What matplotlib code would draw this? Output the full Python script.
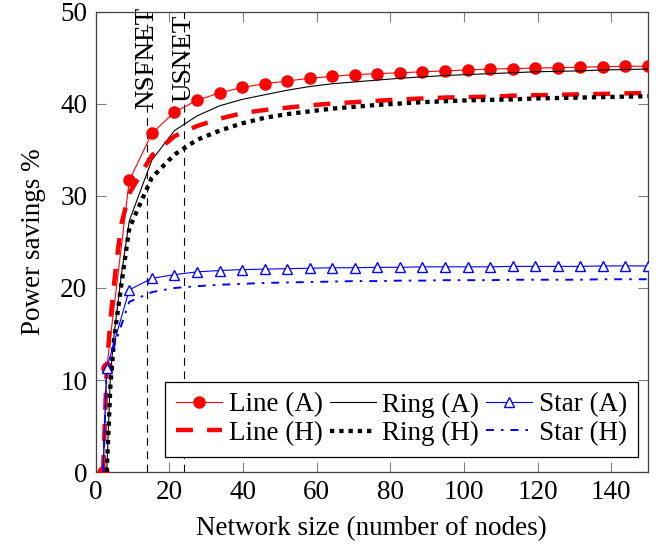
import matplotlib
matplotlib.use("Agg")
import matplotlib.pyplot as plt

plt.rcParams["font.family"] = ["Liberation Serif", "DejaVu Serif"]
plt.rcParams["font.size"] = 19.5

# Network sizes shared by the sampled points of every curve
n_grid = [9.125, 15.25, 21.375, 27.5, 33.625, 39.75, 45.875, 52.0, 58.125,
          64.25, 70.375, 76.5, 82.625, 88.75, 94.875, 101.0, 107.125, 113.25,
          119.375, 125.5, 131.625, 137.75, 143.875, 150.0]

# Line topology
line_a_n = [2, 3] + n_grid
line_a = [0.0, 11.3, 31.7, 36.8, 39.1, 40.4, 41.2, 41.8, 42.2, 42.5, 42.8,
          43.0, 43.2, 43.3, 43.4, 43.5, 43.6, 43.7, 43.8, 43.85, 43.9, 43.95,
          44.0, 44.05, 44.1, 44.1]
line_h_n = [2, 3, 4, 5, 6, 7] + n_grid
line_h = [0.0, 11.3, 16.5, 20.5, 24.0, 27.0, 30.3, 34.4, 36.5, 37.6, 38.4,
          39.0, 39.35, 39.6, 39.85, 40.05, 40.2, 40.35, 40.5, 40.6, 40.7,
          40.75, 40.8, 40.9, 40.95, 41.0, 41.05, 41.1, 41.15, 41.2]

# Ring topology
ring_a_n = [3, 4, 5, 7] + n_grid
ring_a = [0.0, 10.5, 15.0, 21.5, 27.3, 33.9, 37.1, 38.7, 39.8, 40.5, 41.0,
          41.5, 41.9, 42.2, 42.4, 42.6, 42.8, 42.95, 43.1, 43.2, 43.3, 43.4,
          43.5, 43.55, 43.6, 43.7, 43.75, 43.8]
ring_h_n = [3, 4, 5, 7] + n_grid
ring_h = [0.0, 9.5, 14.5, 20.5, 26.5, 32.0, 34.5, 36.1, 37.1, 37.9, 38.5,
          38.9, 39.2, 39.5, 39.7, 39.9, 40.05, 40.2, 40.3, 40.4, 40.45, 40.5,
          40.6, 40.65, 40.7, 40.75, 40.8, 40.85]

# Star topology
star_a_n = [2, 3] + n_grid
star_a = [0.0, 11.3, 19.8, 21.05, 21.45, 21.75, 21.9, 22.0, 22.05, 22.1,
          22.15, 22.2, 22.2, 22.25, 22.25, 22.3, 22.3, 22.3, 22.3, 22.35,
          22.35, 22.35, 22.35, 22.4, 22.4, 22.4]
star_h_n = [2, 3] + n_grid
star_h = [0.0, 11.3, 18.5, 19.55, 20.0, 20.2, 20.35, 20.45, 20.55, 20.6,
          20.65, 20.7, 20.75, 20.75, 20.8, 20.8, 20.85, 20.85, 20.85, 20.9,
          20.9, 20.9, 20.9, 20.95, 20.95, 20.95]

# Reference networks
ref_names = ["NSFNET", "USNET"]
ref_sizes = [14, 24]

fig = plt.figure(figsize=(6.72, 5.5), dpi=100)
ax = fig.add_axes([95.7 / 672, 1 - 472 / 550, (648 - 95.7) / 672, 460 / 550])

for name, size in zip(ref_names, ref_sizes):
    ax.axvline(size, color="black", lw=0.8, dashes=(7, 5), zorder=1)
    ax.text(size, 45, name, rotation=90, ha="center", va="center",
            fontsize=19.5, zorder=2)

h_la, = ax.plot(line_a_n, line_a, color="red", lw=0.8, marker="o", ms=8,
                label="Line (A)", zorder=3)
h_ra, = ax.plot(ring_a_n, ring_a, color="black", lw=0.8, label="Ring (A)",
                zorder=3)
h_sa, = ax.plot(star_a_n, star_a, color="blue", lw=0.8, marker="^", ms=7,
                mfc="white", mec="blue", mew=1.0,
                markevery=list(range(1, len(star_a))), label="Star (A)",
                zorder=4)
h_lh, = ax.plot(line_h_n, line_h, color="red", lw=3.2, dashes=(3.8, 3.2),
                dash_capstyle="butt", label="Line (H)", zorder=3)
h_rh, = ax.plot(ring_h_n, ring_h, color="black", lw=3.1, dashes=(1.0, 1.15),
                dash_capstyle="butt", label="Ring (H)", zorder=3)
h_sh, = ax.plot(star_h_n, star_h, color="blue", lw=1.4,
                dashes=(4.1, 3.6, 1.3, 3.6), dash_capstyle="butt",
                label="Star (H)", zorder=3)

ax.set_xlim(0, 150)
ax.set_ylim(0, 50)
ax.set_xticks(range(0, 141, 20))
ax.set_yticks(range(0, 51, 10))
ax.tick_params(direction="in", top=True, right=True, length=7, width=0.8,
               color="#808080", labelsize=19.5, pad=6)
for sp in ax.spines.values():
    sp.set_color("#404040")
    sp.set_linewidth(0.9)

ax.set_xlabel("Network size (number of nodes)", fontsize=19.5, labelpad=8)
ax.set_ylabel("Power savings %", fontsize=19.5, labelpad=10)

leg = ax.legend(handles=[h_la, h_lh, h_ra, h_rh, h_sa, h_sh], ncol=3,
                loc="lower right", bbox_to_anchor=(0.982, 0.033),
                frameon=True, fancybox=False, framealpha=1.0,
                edgecolor="black", handlelength=1.7, handletextpad=0.25,
                columnspacing=0.25, borderpad=0.4, labelspacing=0.12,
                borderaxespad=0.0, fontsize=19.5)
leg.get_frame().set_linewidth(0.9)
leg.set_zorder(5)

fig.savefig("out.png", dpi=100)
